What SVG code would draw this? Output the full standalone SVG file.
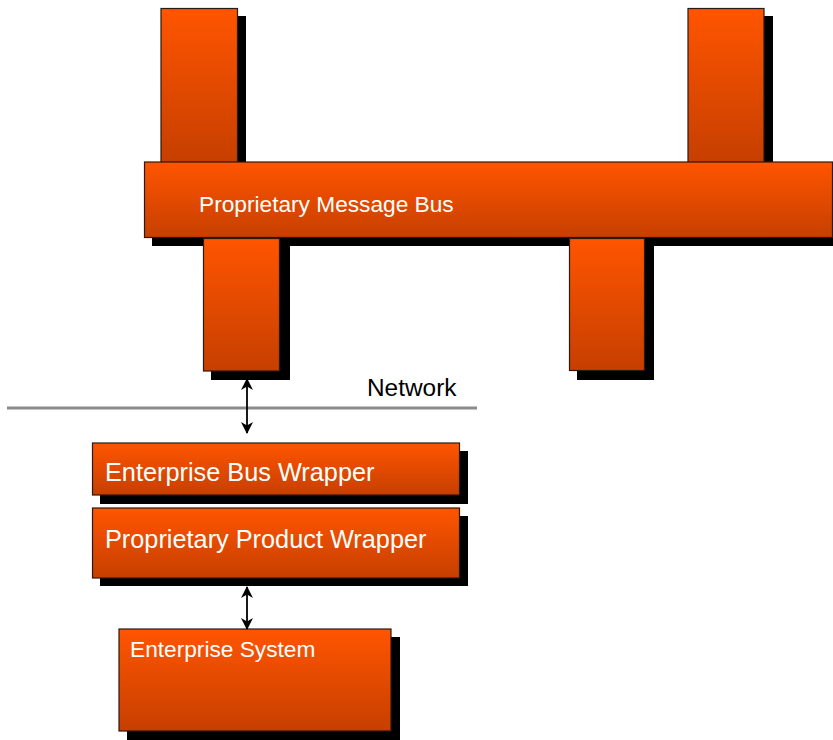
<svg xmlns="http://www.w3.org/2000/svg" width="833" height="740" viewBox="0 0 833 740">
<defs>
<linearGradient id="g" x1="0" y1="0" x2="0" y2="1">
<stop offset="0" stop-color="#FF5500"/>
<stop offset="1" stop-color="#C63F00"/>
</linearGradient>
<marker id="ah" viewBox="0 0 12 12" refX="11" refY="6" markerWidth="12" markerHeight="12" markerUnits="userSpaceOnUse" orient="auto-start-reverse">
<path d="M0,0 L12,6 L0,12 L3.5,6 z" fill="#000"/>
</marker>
<style>
.box{fill:url(#g);stroke:#2a1a10;stroke-width:1.2}
.sh{fill:#000}
.t{font-family:"Liberation Sans",Arial,sans-serif;fill:#fff}
.c{stroke:#000;stroke-width:1.8;fill:none;marker-start:url(#ah);marker-end:url(#ah)}
</style>
</defs>
<g id="bar-top-left"><rect class="sh" x="169" y="16" width="77" height="154"/><rect class="box" x="161" y="8.5" width="76.5" height="154"/></g>
<g id="bar-top-right"><rect class="sh" x="696" y="16" width="77" height="154"/><rect class="box" x="688" y="8.5" width="76" height="154"/></g>
<g id="bus"><rect class="sh" x="152" y="170" width="690" height="76"/><rect class="box" x="144.5" y="162" width="688" height="75.5"/><text class="t" x="199" y="212" font-size="22.7">Proprietary Message Bus</text></g>
<g id="bar-bottom-left"><rect class="sh" x="211" y="246" width="79" height="134"/><rect class="box" x="203.5" y="238.5" width="76" height="132.5"/></g>
<g id="bar-bottom-right"><rect class="sh" x="577" y="246" width="77" height="134"/><rect class="box" x="569.5" y="238.5" width="75" height="132"/></g>
<g id="network"><line x1="7" y1="408" x2="477" y2="408" stroke="#8a8a8a" stroke-width="3"/><text x="367" y="396" font-family="Liberation Sans,Arial,sans-serif" font-size="24.4" fill="#000">Network</text></g>
<g id="enterprise-bus-wrapper"><rect class="sh" x="100" y="451" width="368" height="53"/><rect class="box" x="92.5" y="443" width="367" height="52"/><text class="t" x="105" y="481" font-size="25.3">Enterprise Bus Wrapper</text></g>
<g id="proprietary-product-wrapper"><rect class="sh" x="100" y="516" width="368" height="70"/><rect class="box" x="92.5" y="508" width="367" height="70"/><text class="t" x="105" y="548" font-size="25.3">Proprietary Product Wrapper</text></g>
<g id="enterprise-system"><rect class="sh" x="127" y="637" width="273" height="103"/><rect class="box" x="119" y="629" width="272" height="102"/><text class="t" x="130" y="657" font-size="22.7">Enterprise System</text></g>
<g id="connectors">
<line class="c" x1="247" y1="379" x2="247" y2="433"/>
<line class="c" x1="247" y1="587" x2="247" y2="629"/>
</g>
</svg>
